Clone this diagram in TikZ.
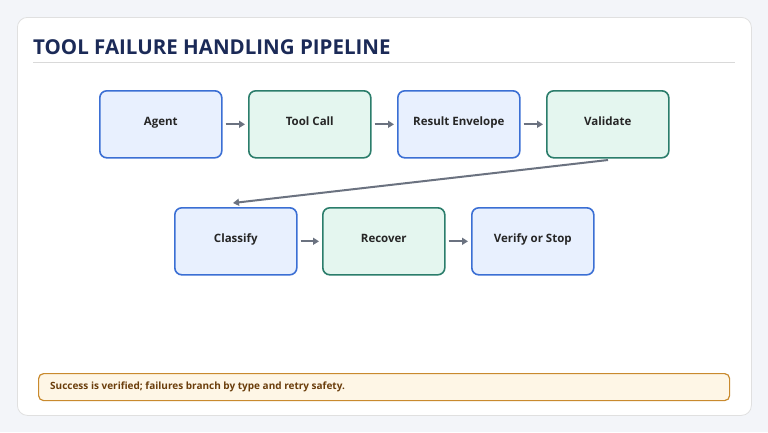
\documentclass[tikz,border=0pt]{standalone}
\usepackage{fontspec}
\setmainfont{Open Sans}
\usetikzlibrary{arrows.meta}
\definecolor{bg}{HTML}{F3F5F9}
\definecolor{bfill}{HTML}{E8F0FE}
\definecolor{bdraw}{HTML}{3B6FD4}
\definecolor{gfill}{HTML}{E4F6EF}
\definecolor{gdraw}{HTML}{2B7D6B}
\definecolor{arr}{HTML}{6B7280}
\definecolor{title}{HTML}{1B2A57}
\definecolor{ofill}{HTML}{FEF6E6}
\definecolor{odraw}{HTML}{C98A2E}
\definecolor{otext}{HTML}{6B3E0C}
\begin{document}
\begin{tikzpicture}[x=1pt,y=-1pt,
  box/.style={rounded corners=7pt,line width=1.6pt,minimum width=122pt,minimum height=67pt,font=\bfseries\fontsize{11.5}{13}\selectfont,text=black!85,anchor=north west,inner sep=0pt,text height=6.5pt,text depth=4.5pt},
  bb/.style={box,fill=bfill,draw=bdraw},
  gb/.style={box,fill=gfill,draw=gdraw},
  ar/.style={-{Triangle[length=6pt,width=7pt]},line width=2pt,draw=arr}]
\fill[bg] (0,0) rectangle (768,432);
\useasboundingbox (0,0) rectangle (768,432);
\node[rounded corners=10pt,fill=white,draw=black!12,line width=0.8pt,minimum width=734pt,minimum height=398pt,anchor=north west] (card) at (17,17) {};
\node[anchor=west,text=title,font=\bfseries\fontsize{20.5}{24}\selectfont,inner sep=0pt] (t) at (33,47) {TOOL FAILURE HANDLING PIPELINE};
\draw[black!15,line width=1pt] (33,62) -- (735,62);
\node[bb] (a) at (99,90) {Agent};
\node[gb] (b) at (248,90) {Tool Call};
\node[bb] (c) at (397,90) {Result Envelope};
\node[gb] (d) at (546,90) {Validate};
\node[bb] (e) at (174,207) {Classify};
\node[gb] (f) at (322,207) {Recover};
\node[bb] (g) at (471,207) {Verify or Stop};
\draw[ar] ([xshift=3pt]a.east) -- ([xshift=-3pt]b.west);
\draw[ar] ([xshift=3pt]b.east) -- ([xshift=-3pt]c.west);
\draw[ar] ([xshift=3pt]c.east) -- ([xshift=-3pt]d.west);
\draw[ar] ([xshift=3pt]e.east) -- ([xshift=-3pt]f.west);
\draw[ar] ([xshift=3pt]f.east) -- ([xshift=-3pt]g.west);
\coordinate (s) at (608,160);
\coordinate (t2) at (233,203);
\draw[ar] (s) -- (t2);
\node[anchor=north west,rounded corners=5pt,fill=ofill,draw=odraw,line width=1.2pt,minimum width=691pt,minimum height=27pt] (n) at (38,373) {};
\node[anchor=west,text=otext,font=\bfseries\fontsize{10}{12}\selectfont,inner sep=0pt] (nt) at (50,386.5) {Success is verified; failures branch by type and retry safety.};
\end{tikzpicture}
\end{document}
